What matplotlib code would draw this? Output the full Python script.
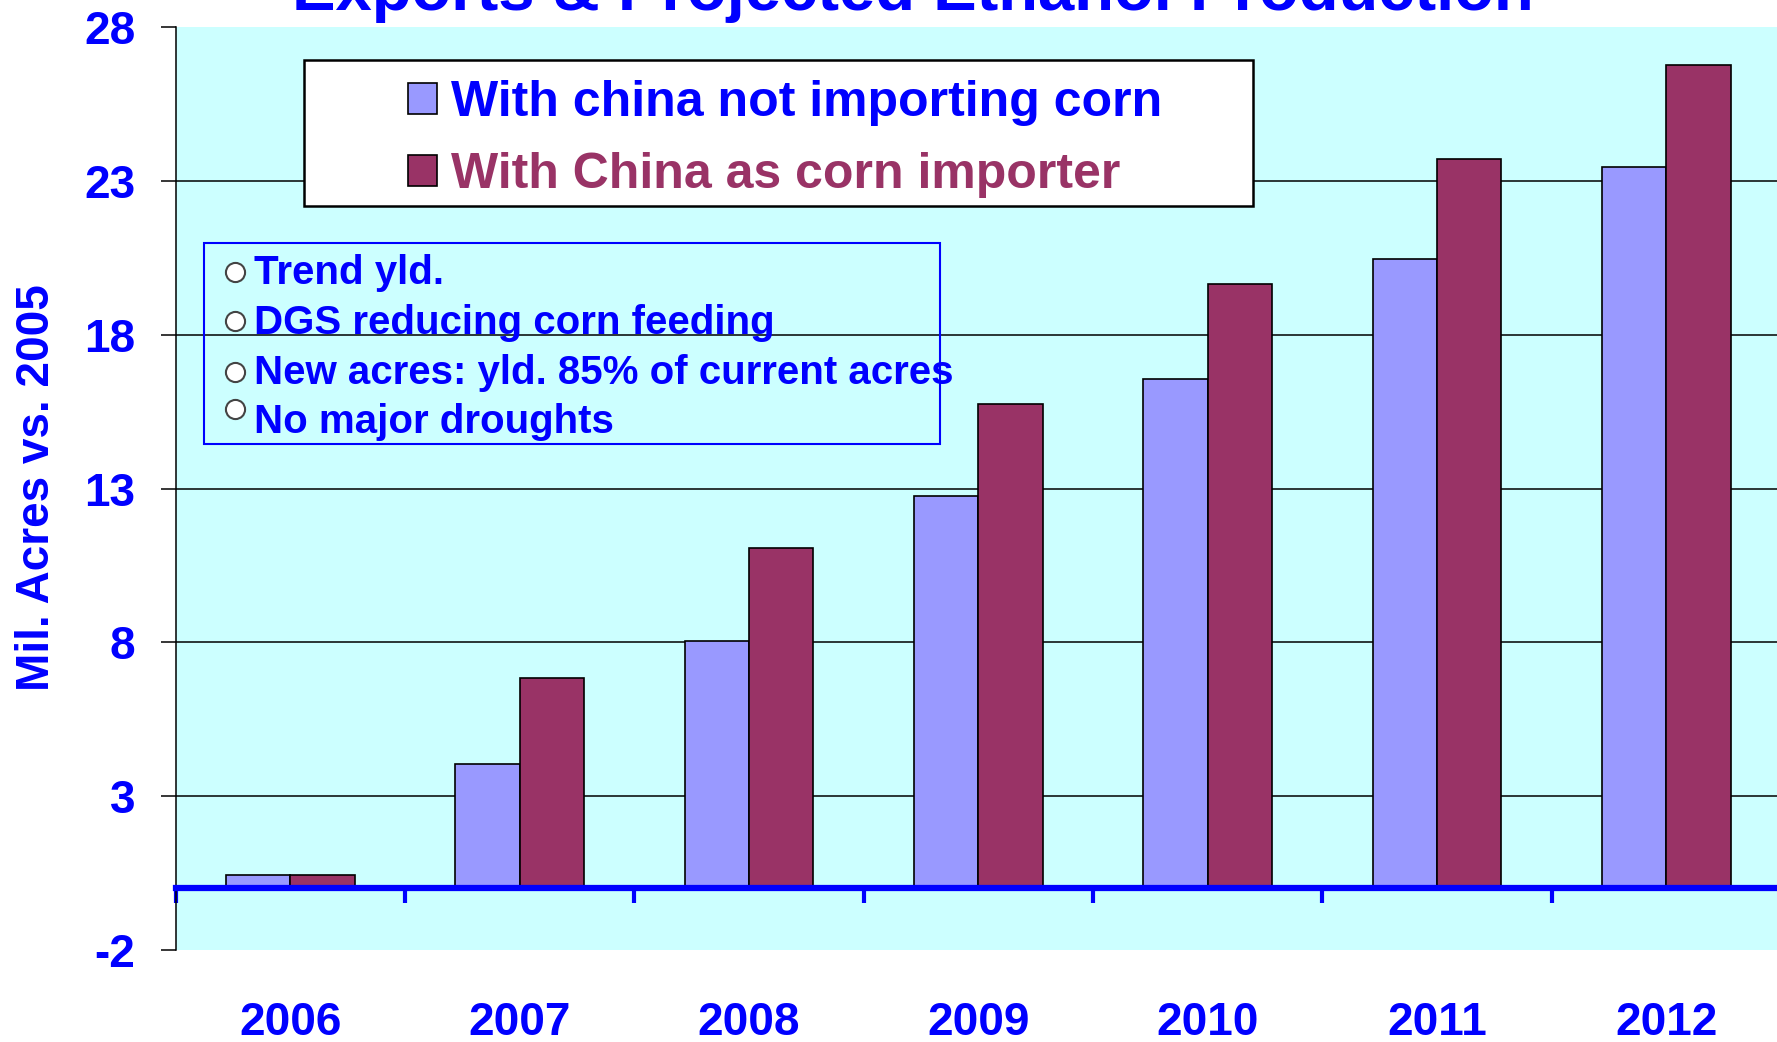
import matplotlib
matplotlib.use("Agg")
import matplotlib.pyplot as plt
from matplotlib.patches import Rectangle, Patch
import numpy as np

# ---- data ----
years = ["2006", "2007", "2008", "2009", "2010", "2011", "2012"]
no_china = [0.45, 4.05, 8.05, 12.75, 16.55, 20.45, 23.45]
china_importer = [0.45, 6.85, 11.05, 15.75, 19.65, 23.7, 26.75]
series_names = ["With china not importing corn", "With China as corn importer"]
yticks = [-2, 3, 8, 13, 18, 23, 28]
notes = ["Trend yld.", "DGS reducing corn feeding",
         "New acres: yld. 85% of current acres", "No major droughts"]
title = "Exports & Projected Ethanol Production"
ylabel = "Mil. Acres vs. 2005"

BLUE_BAR = "#9999FF"
RED_BAR = "#993366"
BG = "#CCFFFF"
TXT = "#0000FF"

W, H = 1777, 1042
fig = plt.figure(figsize=(W / 100, H / 100), dpi=100)
plt.rcParams['font.family'] = ['Liberation Sans', 'DejaVu Sans']

def fx(px):
    return px / W

def fy(py):
    return 1 - py / H

ax_left, ax_right, ax_top, ax_bot = 175.7, 1781, 27, 950
ax = fig.add_axes([fx(ax_left), fy(ax_bot), (ax_right - ax_left) / W, (ax_bot - ax_top) / H])
ax.set_facecolor(BG)

x = np.arange(len(years))
bw = 0.28
ax.bar(x - bw / 2, no_china, bw, color=BLUE_BAR, edgecolor="black", linewidth=1.2, zorder=3)
ax.bar(x + bw / 2, china_importer, bw, color=RED_BAR, edgecolor="black", linewidth=1.2, zorder=3)

ax.set_xlim(-0.5, len(years) - 0.5)
ax.set_ylim(-2, 28)

# y axis
ax.set_yticks(yticks)
ax.set_yticklabels([str(v) for v in yticks])
ax.tick_params(axis="y", direction="out", length=11, width=1.1, color="black",
               labelsize=33, labelcolor=TXT, pad=18)
for lab in ax.get_yticklabels():
    lab.set_fontweight("bold")
ax.yaxis.grid(True, color="black", linewidth=1.1)
ax.set_axisbelow(True)
gl = ax.get_ygridlines()
gl[0].set_visible(False)
gl[-1].set_visible(False)

# x axis at zero
ax.spines["bottom"].set_position(("data", 0))
ax.spines["bottom"].set_color(TXT)
ax.spines["bottom"].set_linewidth(4.5)
ax.spines["bottom"].set_zorder(4)
ax.spines["top"].set_visible(False)
ax.spines["right"].set_visible(False)
ax.spines["left"].set_color("black")
ax.spines["left"].set_linewidth(1.1)
ax.set_xticks(np.arange(-0.5, len(years) - 0.5, 1.0))
ax.set_xticklabels([])
ax.set_xticks(x, minor=True)
ax.set_xticklabels(years, minor=True)
ax.tick_params(axis="x", which="major", direction="out", length=11, width=3, color=TXT)
ax.tick_params(axis="x", which="minor", length=0, labelsize=33, labelcolor=TXT, pad=81)
for lab in ax.get_xticklabels(minor=True):
    lab.set_fontweight("bold")

# y label
fig.text(fx(37), fy(430 * 1.1333), ylabel, rotation=90, ha="center", va="center",
         fontsize=33, fontweight="bold", color=TXT)

# title (cut off at top)
fig.text(fx(913), fy(10), title, ha="center", va="baseline",
         fontsize=47, fontweight="bold", color=TXT)

# legend frame
fig.patches.append(Rectangle((fx(304), fy(206)), fx(1253) - fx(304), fy(60) - fy(206),
                             transform=fig.transFigure, facecolor="white",
                             edgecolor="black", linewidth=1.8, zorder=5))
handles = [Patch(facecolor=BLUE_BAR, edgecolor="black", linewidth=1.2),
           Patch(facecolor=RED_BAR, edgecolor="black", linewidth=1.2)]
leg = fig.legend(handles, series_names, loc="upper left",
                 bbox_to_anchor=(fx(408), fy(80)), frameon=False,
                 prop={"size": 36, "weight": "bold"},
                 handlelength=0.58, handleheight=0.58, handletextpad=0.28,
                 borderpad=0, borderaxespad=0, labelspacing=0.52)
leg.set_zorder(6)
for t, c in zip(leg.get_texts(), [TXT, RED_BAR]):
    t.set_color(c)

# notes box
fig.patches.append(Rectangle((fx(204), fy(444)), fx(940) - fx(204), fy(243) - fy(444),
                             transform=fig.transFigure, facecolor="none",
                             edgecolor=TXT, linewidth=1.5, zorder=5))
baselines = [284, 334, 384, 433]
bullet_y = [272, 321, 372, 409]
for txt, b in zip(notes, baselines):
    fig.text(fx(254), fy(b), txt, ha="left", va="baseline", fontsize=29,
             fontweight="bold", color=TXT, zorder=6)
ax.scatter([fx(235)] * len(bullet_y), [fy(b) for b in bullet_y], s=190,
           facecolor="white", edgecolor="#444444", linewidth=1.5,
           transform=fig.transFigure, clip_on=False, zorder=7)

fig.savefig("out.png", dpi=100)
